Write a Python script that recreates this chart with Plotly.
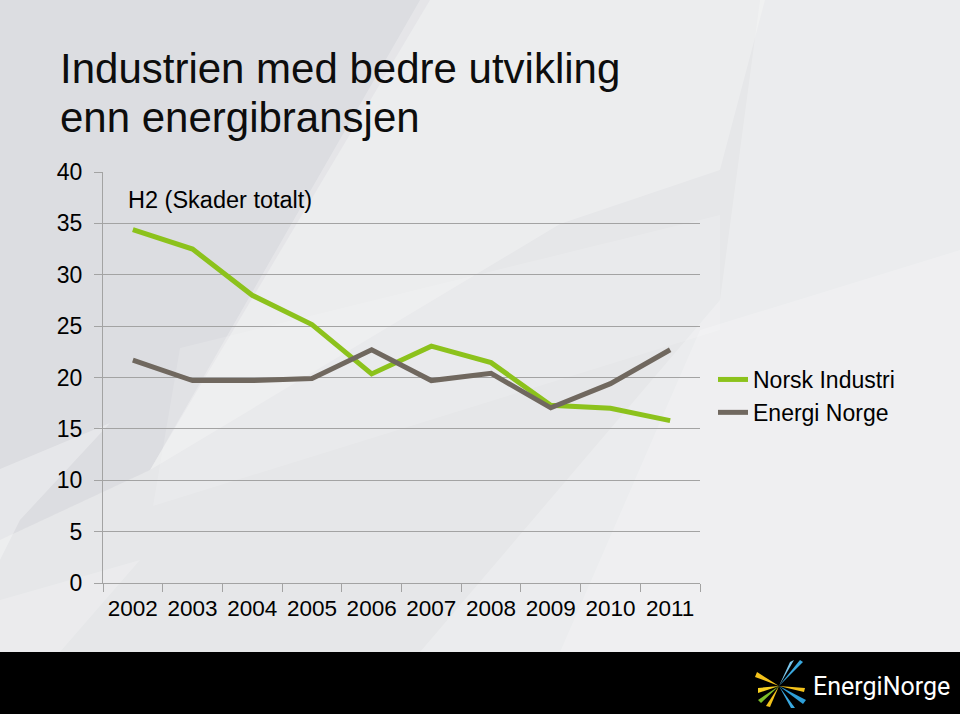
import plotly.graph_objects as go

# ---- data ----
years = ["2002", "2003", "2004", "2005", "2006", "2007", "2008", "2009", "2010", "2011"]
norsk_industri = [34.4, 32.5, 28.0, 25.15, 20.35, 23.05, 21.45, 17.3, 17.0, 15.8]
energi_norge = [21.7, 19.7, 19.7, 19.9, 22.7, 19.7, 20.4, 17.05, 19.4, 22.7]
series_names = ["Norsk Industri", "Energi Norge"]
y_ticks = [0, 5, 10, 15, 20, 25, 30, 35, 40]

# ---- layout geometry ----
W, H = 960, 714
ML, MR, MT, MB = 103, 260, 172, 131
PW, PH = W - ML - MR, H - MT - MB


def px(x):
    return (x - ML) / PW


def py(y):
    return (H - MB - y) / PH


def poly(points):
    return "M " + " L ".join(f"{px(x):.5f},{py(y):.5f}" for x, y in points) + " Z"


FONT = "Liberation Sans, Arial, sans-serif"
GREEN = "#8cc21c"
GREY = "#70685f"
AXIS = "#a3a3a3"

fig = go.Figure()
fig.add_trace(go.Scatter(x=years, y=norsk_industri, name=series_names[0], mode="lines",
                         line=dict(color=GREEN, width=5)))
fig.add_trace(go.Scatter(x=years, y=energi_norge, name=series_names[1], mode="lines",
                         line=dict(color=GREY, width=5)))

shapes = []
# background decorations (soft light rays)
bg = [
    ([(0, 0), (430, 0), (150, 470), (0, 540)], "rgba(185,188,194,0.22)"),
    ([(420, 0), (765, 0), (720, 170), (560, 224), (150, 470)], "rgba(255,255,255,0.25)"),
    ([(180, 348), (720, 215), (720, 330), (153, 506)], "rgba(255,255,255,0.15)"),
    ([(760, 0), (960, 0), (960, 652), (420, 652), (720, 300)], "rgba(255,255,255,0.22)"),
    ([(700, 330), (960, 250), (960, 652), (560, 652)], "rgba(255,255,255,0.2)"),
    ([(0, 469), (110, 423), (20, 520), (0, 560)], "rgba(255,255,255,0.3)"),
    ([(0, 600), (140, 560), (60, 652), (0, 652)], "rgba(255,255,255,0.2)"),
]
for pts, col in bg:
    shapes.append(dict(type="path", xref="paper", yref="paper", path=poly(pts),
                       fillcolor=col, line=dict(width=0), layer="below"))
# bottom black band
shapes.append(dict(type="rect", xref="paper", yref="paper", x0=px(0), x1=px(960),
                   y0=py(652), y1=py(714), fillcolor="#000000", line=dict(width=0), layer="below"))
# logo blades
cx, cy = 779, 686
blades = [
    ([(cx, cy), (800, 660), (803, 662)], "#3aa9e0"),
    ([(cx, cy), (790, 662), (794, 660)], "#7cc8ee"),
    ([(cx, cy), (806, 700), (803, 704)], "#2e9fd9"),
    ([(cx, cy), (795, 708), (791, 708)], "#3aa9e0"),
    ([(cx, cy), (757, 672), (755, 677)], "#f3c21b"),
    ([(cx, cy), (758, 688), (758, 693)], "#f7d020"),
    ([(cx, cy), (770, 707), (766, 706)], "#f3c21b"),
    ([(cx, cy), (761, 703), (758, 700)], "#7dbf2a"),
    ([(cx, cy), (805, 688), (804, 692)], "#f3c21b"),
]
for pts, col in blades:
    shapes.append(dict(type="path", xref="paper", yref="paper", path=poly(pts),
                       fillcolor=col, line=dict(width=0)))

annotations = [
    dict(text="Industrien med bedre utvikling", x=px(58), y=py(68), xref="paper", yref="paper",
         xanchor="left", yanchor="middle", showarrow=False, font=dict(family=FONT, size=42, color="#0d0d0d")),
    dict(text="enn energibransjen", x=px(58), y=py(117), xref="paper", yref="paper",
         xanchor="left", yanchor="middle", showarrow=False, font=dict(family=FONT, size=42, color="#0d0d0d")),
    dict(text="H2 (Skader totalt)", x=px(126), y=py(200), xref="paper", yref="paper",
         xanchor="left", yanchor="middle", showarrow=False, font=dict(family=FONT, size=23.5, color="#000000")),
    dict(text="EnergiNorge", x=px(811), y=py(686), xref="paper", yref="paper",
         xanchor="left", yanchor="middle", showarrow=False, font=dict(family="Roboto, sans-serif", size=25, color="#ffffff")),
]

fig.update_layout(
    width=W, height=H,
    margin=dict(l=ML, r=MR, t=MT, b=MB, pad=0),
    paper_bgcolor="#e6e7e9",
    plot_bgcolor="rgba(0,0,0,0)",
    shapes=shapes,
    annotations=annotations,
    showlegend=True,
    legend=dict(x=px(713), y=py(396), xanchor="left", yanchor="middle",
                bgcolor="rgba(0,0,0,0)", font=dict(family=FONT, size=23, color="#000000"),
                tracegroupgap=0),
    xaxis=dict(type="category", categoryorder="array", categoryarray=years,
               range=[-0.5, 9.5], tickson="boundaries", ticks="outside", ticklen=8,
               tickcolor=AXIS, showline=True, linecolor=AXIS, linewidth=1, showgrid=False,
               tickangle=0, ticklabelstandoff=5,
               tickfont=dict(family=FONT, size=22.5, color="#000000"), fixedrange=True),
    yaxis=dict(range=[0, 40], tickvals=y_ticks, ticks="outside", ticklen=8, tickcolor=AXIS,
               showline=True, linecolor=AXIS, linewidth=1, showgrid=True, gridcolor=AXIS,
               gridwidth=1, zeroline=False, ticklabelstandoff=7,
               tickfont=dict(family=FONT, size=23, color="#000000"), fixedrange=True),
)

fig.write_html("out.html", config={"displayModeBar": False},
               post_script="document.body.style.margin='0';document.body.style.overflow='hidden';")
